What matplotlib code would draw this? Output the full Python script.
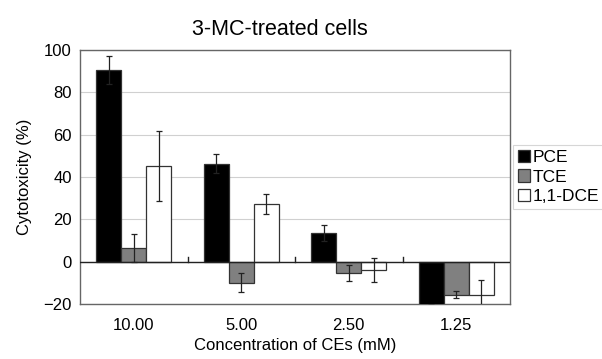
import numpy as np
import matplotlib.pyplot as plt

plt.rcParams['font.family'] = ['Liberation Sans', 'DejaVu Sans']

categories = ['10.00', '5.00', '2.50', '1.25']
series = ['PCE', 'TCE', '1,1-DCE']
pce = [90.5, 46.3, 13.5, -20.5]
pce_err = [6.5, 4.6, 3.8, 0]
tce = [6.5, -9.9, -5.3, -15.7]
tce_err = [6.5, 4.5, 3.8, 1.7]
dce = [45.2, 27.2, -3.9, -15.7]
dce_err = [16.5, 4.8, 5.7, 7.0]

fig = plt.figure(figsize=(6.02, 3.59), dpi=100)
ax = fig.add_axes([80 / 602, 1 - 304 / 359, 430 / 602, 254 / 359])

x = np.arange(len(categories))
w = 0.233
colors = ['black', '#808080', 'white']
vals = [pce, tce, dce]
errs = [pce_err, tce_err, dce_err]
for i, (name, v, e, c) in enumerate(zip(series, vals, errs, colors)):
    pos = x + (i - 1) * w
    ax.bar(pos, v, w, color=c, edgecolor='#333333', linewidth=0.9,
           label=name, zorder=3)
    ax.errorbar(pos, v, yerr=e, fmt='none', ecolor='#222222',
                elinewidth=0.9, capsize=2.5, capthick=0.9, zorder=4)

ax.set_xlim(-0.5, len(categories) - 0.5)
ax.set_ylim(-20, 100)
ax.set_yticks(range(-20, 101, 20))
ax.yaxis.grid(True, color='#d0d0d0', linewidth=0.8, zorder=0)
ax.axhline(0, color='#222222', linewidth=1.0, zorder=5)
# small category separators standing on the zero line
for b in x[:-1] + 0.5:
    ax.plot([b, b], [0, 2.3], color='#222222', linewidth=1.0, zorder=5)

for s in ax.spines.values():
    s.set_color('#666666')
    s.set_linewidth(1.0)
ax.set_xticks(x)
ax.set_xticklabels(categories)
ax.tick_params(axis='x', length=0, pad=10, labelsize=12)
ax.tick_params(axis='y', length=0, pad=6, labelsize=12)
ax.set_xlabel('Concentration of CEs (mM)', fontsize=12, labelpad=4)
ax.set_ylabel('Cytotoxicity (%)', fontsize=12, labelpad=8)
ax.set_title('3-MC-treated cells', fontsize=15.5, pad=11, x=0.465)

leg = ax.legend(loc='center left', bbox_to_anchor=(1.0, 0.5),
                fontsize=12.5, frameon=True, fancybox=False,
                handlelength=0.7, handleheight=0.7, handletextpad=0.15,
                labelspacing=0.25, borderpad=0.3, borderaxespad=0.15)
leg.get_frame().set_edgecolor('#cccccc')
leg.get_frame().set_linewidth(0.8)

fig.savefig('out.png', dpi=100)
